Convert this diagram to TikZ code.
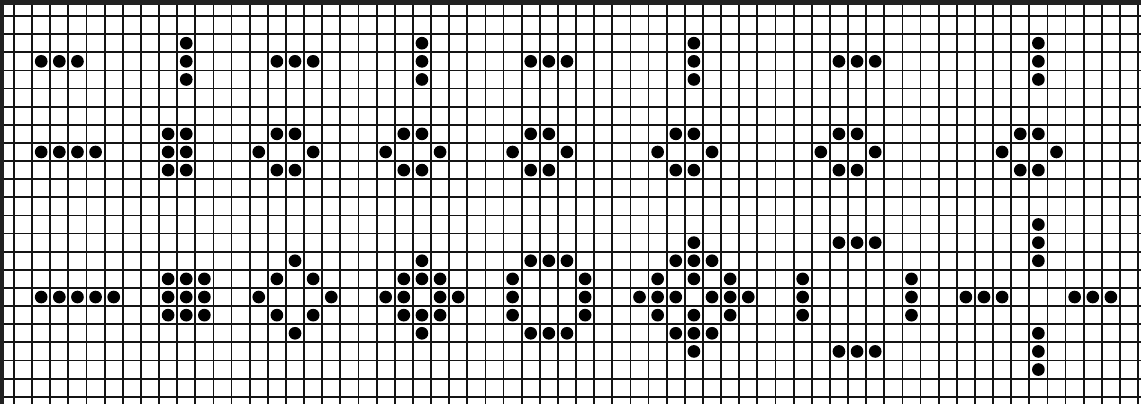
\documentclass[tikz,border=0pt]{standalone}
\usepackage{tikz}
\tikzset{
  gridline/.style={line width=1.4pt, black!92},
  alive/.style={fill=black},
  edgeband/.style={fill=black!87}
}

\begin{document}
\begin{tikzpicture}[x=0.5cm, y=-0.5cm]
    \useasboundingbox (-0.772,-0.883) rectangle (62.16,21.40);
    \fill[white] (-0.772,-0.883) rectangle (62.16,21.40);
    %% the board
    \foreach \k in {0,...,62}
      \draw[gridline] (\k,-0.883) -- (\k,21.40);
    \foreach \j in {0,...,21}
      \draw[gridline] (-0.772,\j) -- (62.16,\j);
    \fill[edgeband] (-0.772,-0.883) rectangle (62.16,-0.58);
    \fill[edgeband] (-0.772,-0.883) rectangle (-0.54,21.40);
    %% top row: blinkers, two phases
    \foreach \c/\r in {1/2,2/2,3/2, 9/1,9/2,9/3, 14/2,15/2,16/2, 22/1,22/2,22/3,
                       28/2,29/2,30/2, 37/1,37/2,37/3, 45/2,46/2,47/2, 56/1,56/2,56/3}
      \fill[alive] (\c+0.5,\r+0.5) circle[radius=0.35];
    %% middle row
    \foreach \c/\r in {1/7,2/7,3/7,4/7, 8/6,9/6,8/7,9/7,8/8,9/8,
                       14/6,15/6,13/7,16/7,14/8,15/8, 21/6,22/6,20/7,23/7,21/8,22/8,
                       28/6,29/6,27/7,30/7,28/8,29/8, 36/6,37/6,35/7,38/7,36/8,37/8,
                       45/6,46/6,44/7,47/7,45/8,46/8, 55/6,56/6,54/7,57/7,55/8,56/8}
      \fill[alive] (\c+0.5,\r+0.5) circle[radius=0.35];
    %% bottom row
    \foreach \c/\r in {1/15,2/15,3/15,4/15,5/15,
                       8/14,9/14,10/14,8/15,9/15,10/15,8/16,9/16,10/16,
                       15/13,14/14,16/14,13/15,17/15,14/16,16/16,15/17,
                       22/13,21/14,22/14,23/14,20/15,21/15,23/15,24/15,21/16,22/16,23/16,22/17,
                       28/13,29/13,30/13,27/14,31/14,27/15,31/15,27/16,31/16,28/17,29/17,30/17}
      \fill[alive] (\c+0.5,\r+0.5) circle[radius=0.35];
    \foreach \c/\r in {37/12,36/13,37/13,38/13,35/14,37/14,39/14,
                       34/15,35/15,36/15,38/15,39/15,40/15,
                       35/16,37/16,39/16,36/17,37/17,38/17,37/18,
                       45/12,46/12,47/12,43/14,43/15,43/16,49/14,49/15,49/16,45/18,46/18,47/18,
                       56/11,56/12,56/13,52/15,53/15,54/15,58/15,59/15,60/15,56/17,56/18,56/19}
      \fill[alive] (\c+0.5,\r+0.5) circle[radius=0.35];
\end{tikzpicture}
\end{document}
